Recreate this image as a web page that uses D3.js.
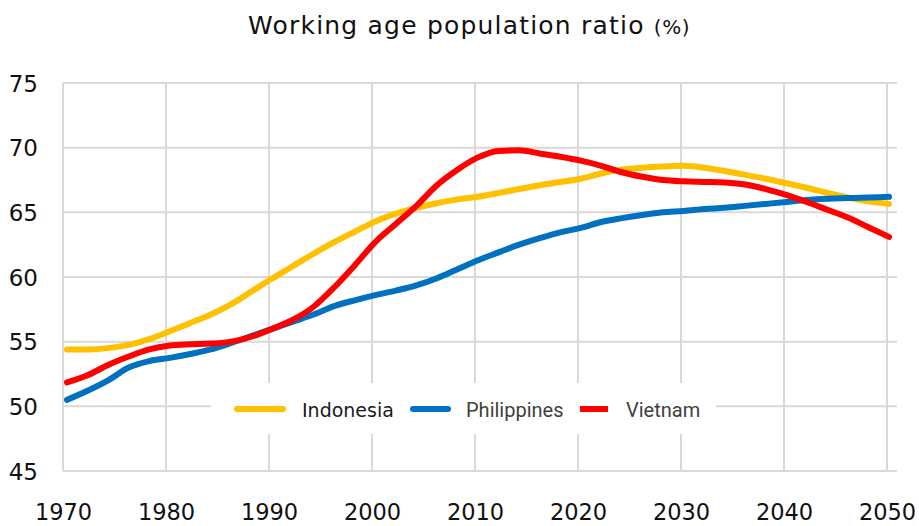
<!DOCTYPE html>
<html><head><meta charset="utf-8">
<script src="https://cdn.jsdelivr.net/npm/d3@7"></script>
<style>body{margin:0;background:#fff;}svg{display:block;}</style>
</head><body><svg id="c" width="919" height="526"></svg>
<script>
const years = d3.range(1970, 2051, 2);
const indonesia = [54.4,54.4,54.5,54.75,55.2,55.8,56.45,57.1,57.9,58.9,59.9,60.85,61.8,62.7,63.5,64.3,64.9,65.35,65.7,66.0,66.2,66.5,66.8,67.1,67.35,67.6,68.0,68.3,68.45,68.55,68.6,68.45,68.2,67.9,67.6,67.25,66.9,66.5,66.15,65.85,65.65];
const philippines = [50.5,51.2,52.0,53.0,53.5,53.75,54.05,54.4,54.9,55.45,56.0,56.55,57.1,57.75,58.2,58.6,58.95,59.35,59.9,60.6,61.3,61.9,62.5,63.0,63.45,63.8,64.25,64.55,64.8,65.0,65.1,65.25,65.35,65.5,65.65,65.8,65.95,66.05,66.1,66.15,66.2];
const vietnam = [51.85,52.4,53.2,53.85,54.4,54.7,54.8,54.85,55.0,55.4,56.0,56.7,57.7,59.2,60.9,62.7,64.1,65.5,67.1,68.3,69.25,69.75,69.8,69.55,69.3,69.0,68.6,68.1,67.75,67.5,67.4,67.35,67.3,67.15,66.8,66.35,65.8,65.2,64.6,63.85,63.1];
const seriesNames = ["Indonesia","Philippines","Vietnam"];
const seriesColors = ["#FFC000","#0070C0","#FF0000"];
const xTicks = d3.range(1970, 2051, 10);
const yTicks = [45,50,55,60,65,70,75];
const titleText = "Working age population ratio";
const titleUnit = "(%)";

const svg = d3.select("#c");
const x = d3.scaleLinear().domain([1970,2050]).range([63,887]);
const xLine = d3.scaleLinear().domain([1970,2050]).range([67,889]);
const y = d3.scaleLinear().domain([45,75]).range([471,83]);
const plotRight = 897;
const grid = "#d9d9d9";
const tickFont = "DejaVu Sans, Verdana, sans-serif";

// gridlines
svg.append("g").selectAll("line").data(yTicks).join("line")
  .attr("x1",63).attr("x2",plotRight).attr("y1",d=>y(d)).attr("y2",d=>y(d))
  .attr("stroke",grid).attr("stroke-width",2);
svg.append("g").selectAll("line").data(xTicks).join("line")
  .attr("x1",d=>x(d)).attr("x2",d=>x(d)).attr("y1",y(75)).attr("y2",y(45))
  .attr("stroke",grid).attr("stroke-width",2);

// axis labels
const yAxis = d3.axisLeft(y).tickValues(yTicks).tickSize(0).tickPadding(0);
const gy = svg.append("g").attr("transform","translate(38,0)").call(yAxis);
gy.select(".domain").remove();
gy.selectAll("text").attr("font-family",tickFont).attr("font-size",23).attr("fill","#111").attr("dy","0.36em");

const xAxis = d3.axisBottom(x).tickValues(xTicks).tickFormat(d3.format("d")).tickSize(0).tickPadding(0);
const gx = svg.append("g").attr("transform","translate(0,520)").call(xAxis);
gx.select(".domain").remove();
gx.selectAll("text").attr("font-family",tickFont).attr("font-size",22.5).attr("fill","#111").attr("y",0).attr("dy","0");

// lines
const allSeries = [indonesia, philippines, vietnam];
const line = d3.line().x((d,i)=>xLine(years[i])).y(d=>y(d)).curve(d3.curveMonotoneX);
svg.append("g").selectAll("path").data(allSeries).join("path")
  .attr("d", d=>line(d)).attr("fill","none")
  .attr("stroke",(d,i)=>seriesColors[i]).attr("stroke-width",6)
  .attr("stroke-linecap","round").attr("stroke-linejoin","round");

// legend
svg.append("rect").attr("x",211).attr("y",383).attr("width",505).attr("height",51).attr("fill","#fff");
const legendItems = [
  {x1:237,x2:283,tx:302,font:"DejaVu Sans, Verdana, sans-serif",fill:"#1a1a1a",size:19},
  {x1:413,x2:448,tx:466,font:"Roboto, sans-serif",fill:"#404040",size:20},
  {x1:580,x2:608,tx:626,font:"Roboto, sans-serif",fill:"#404040",size:20}
];
const lg = svg.append("g");
legendItems.forEach((it,i)=>{
  lg.append("line").attr("x1",it.x1).attr("x2",it.x2).attr("y1",409).attr("y2",409)
    .attr("stroke",seriesColors[i]).attr("stroke-width",6).attr("stroke-linecap", i===2?"butt":"round");
  lg.append("text").attr("x",it.tx).attr("y",417).text(seriesNames[i])
    .attr("font-family",it.font).attr("font-size",it.size).attr("fill",it.fill);
});

// title
const t = svg.append("text").attr("x",469).attr("y",34).attr("text-anchor","middle")
  .attr("font-family","DejaVu Sans, Verdana, sans-serif").attr("fill","#111");
t.append("tspan").attr("font-size",25).attr("letter-spacing",1.2).text(titleText + " ");
t.append("tspan").attr("font-size",20).attr("letter-spacing",0.5).text(titleUnit);
</script></body></html>
